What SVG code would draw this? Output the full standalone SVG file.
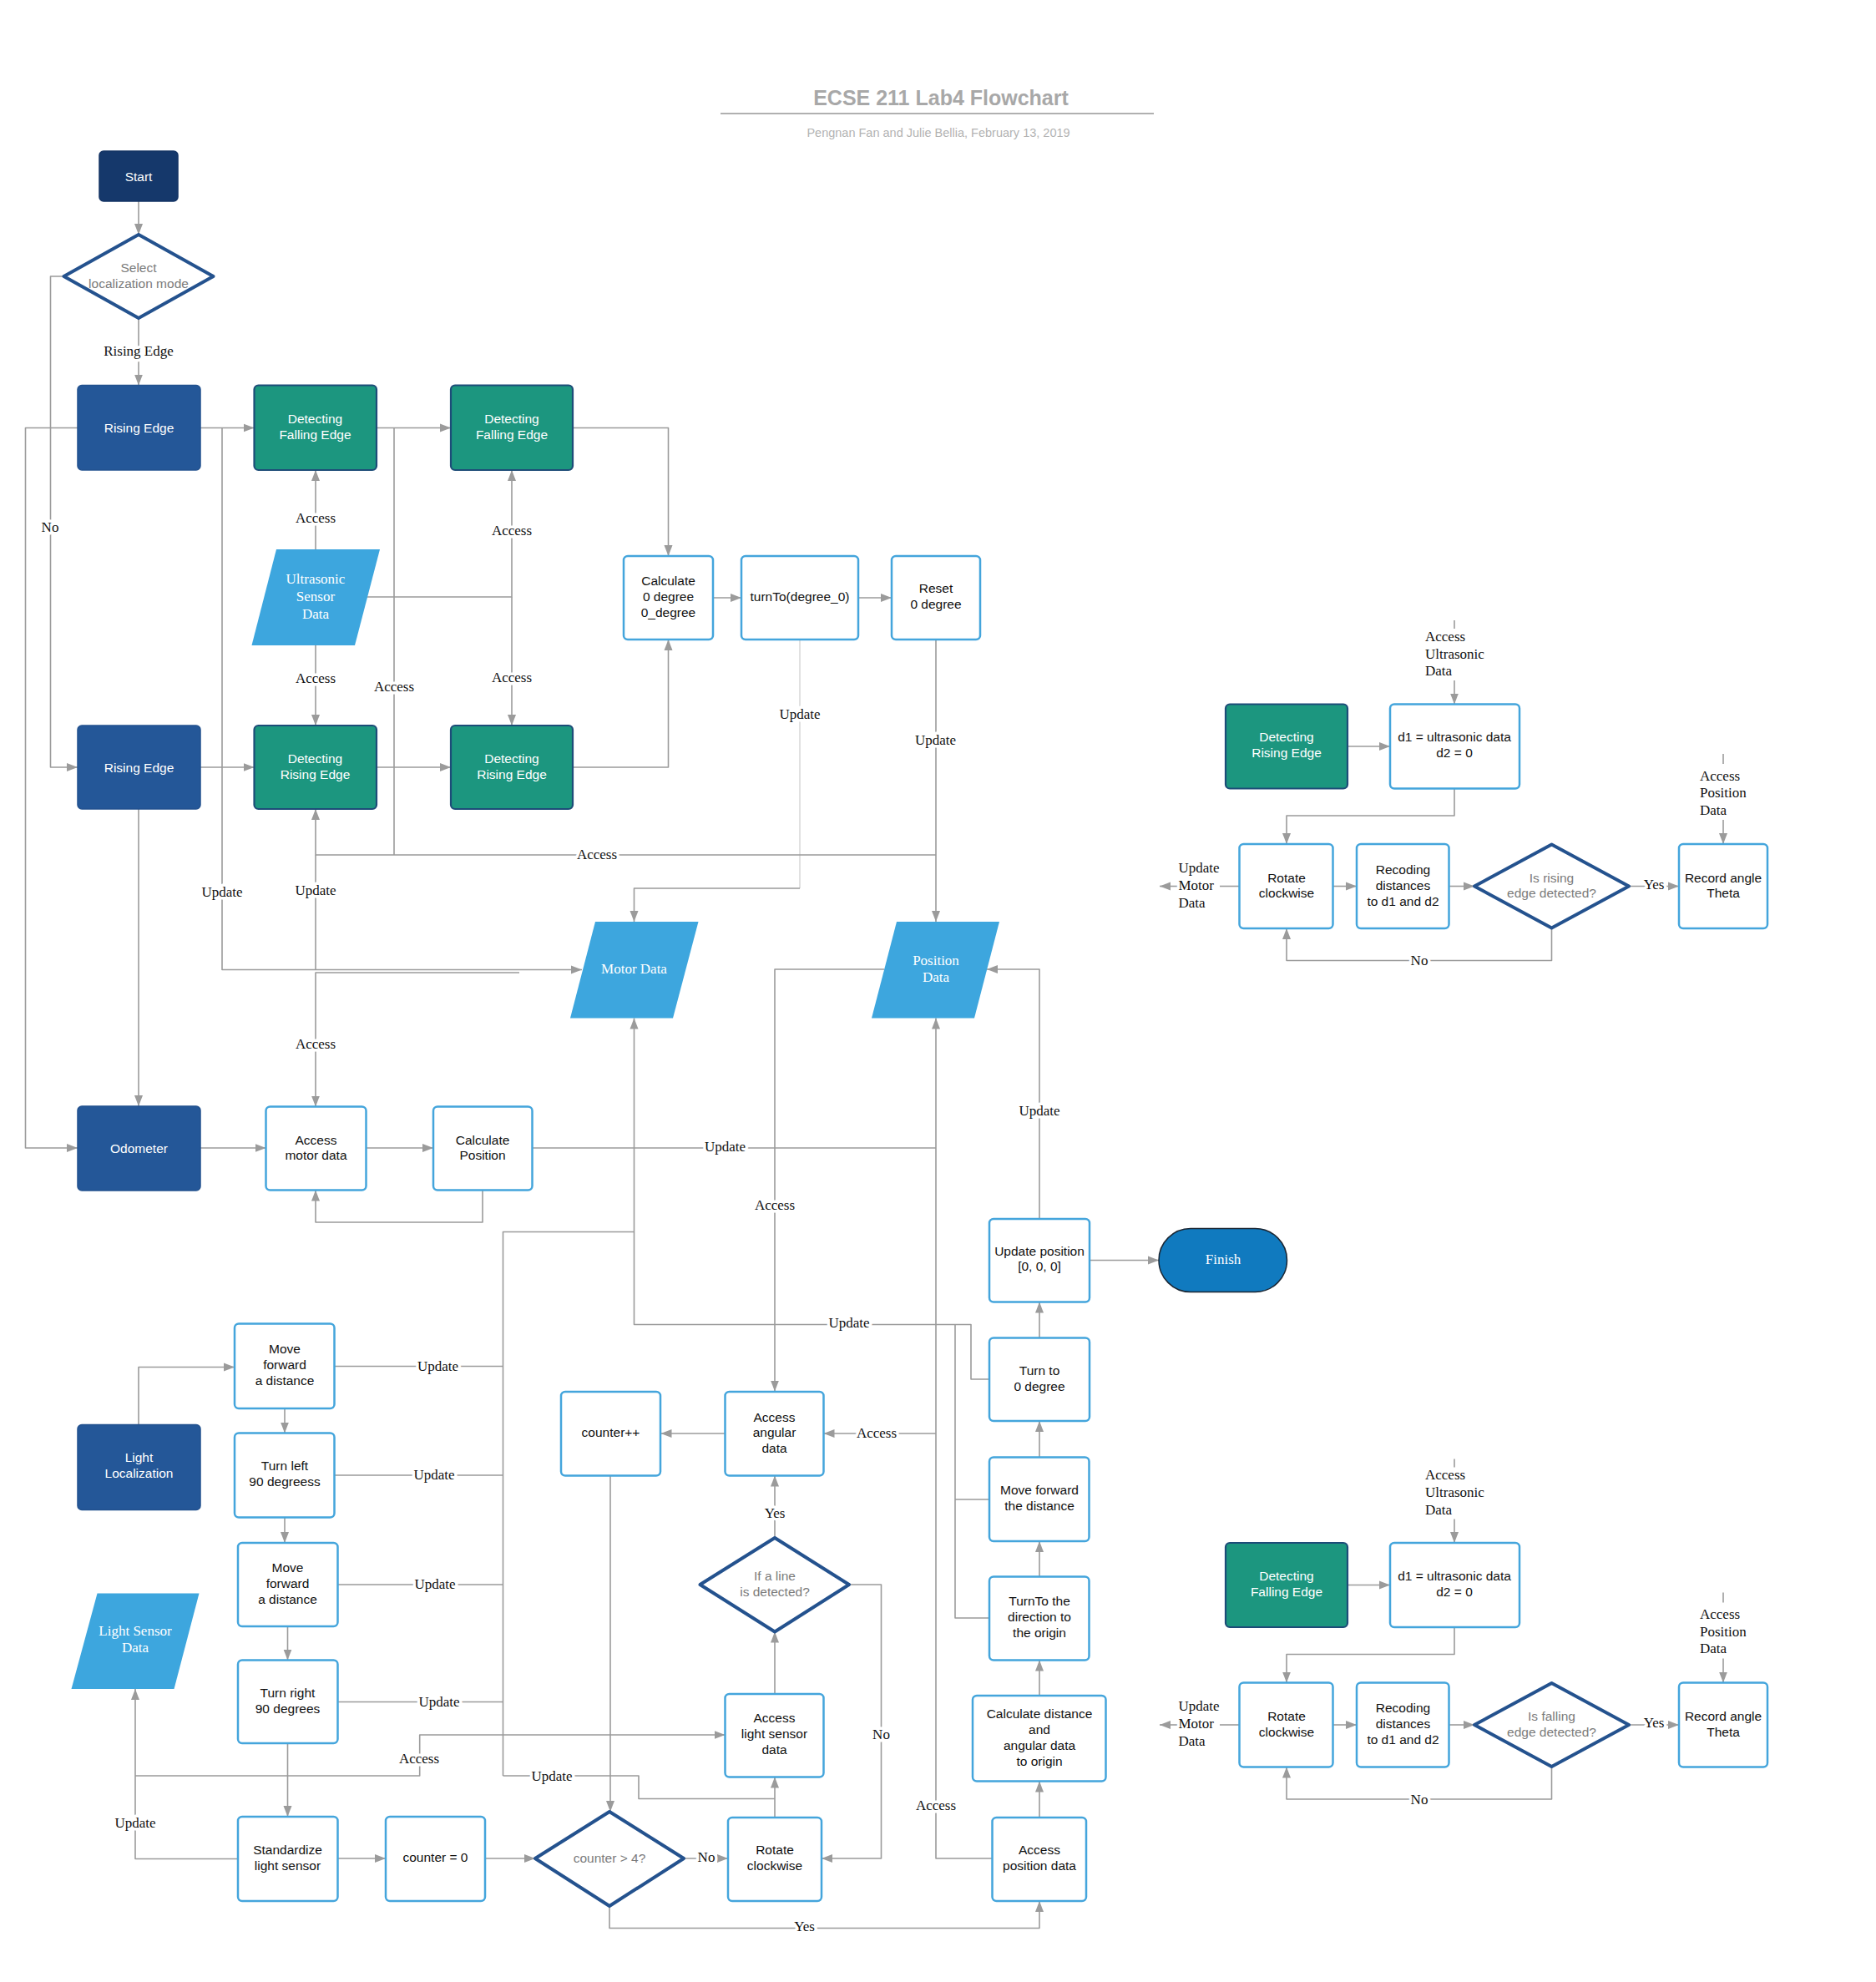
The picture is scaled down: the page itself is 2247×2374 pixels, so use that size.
<svg xmlns="http://www.w3.org/2000/svg" width="2247" height="2374" viewBox="0 0 2247 2374">
<defs>
<marker id="ah" markerWidth="14" markerHeight="12" refX="13" refY="6" orient="auto" markerUnits="userSpaceOnUse">
<path d="M0,1 L13,6 L0,11 Z" fill="#9b9b9b"/>
</marker>
<style>
.conn{fill:none;stroke:#9b9b9b;stroke-width:1.6;stroke-linejoin:round}
.light{stroke:#dadada}
.arr{marker-end:url(#ah)}
.lbl{font-family:"Liberation Serif","Times New Roman",serif;font-size:17px;fill:#111;text-anchor:middle;dominant-baseline:central;stroke:#fff;stroke-width:7;paint-order:stroke;stroke-linejoin:round}
.lft{text-anchor:start}
.box{fill:#fff;stroke:#44a5dc;stroke-width:2.5}
.navy{fill:#15386b;stroke:#133364;stroke-width:1.5}
.blue{fill:#245798;stroke:#22518e;stroke-width:1.5}
.teal{fill:#1c967f;stroke:#1d4c78;stroke-width:2.2}
.para{fill:#3da6de}
.dia{fill:#fff;stroke:#24528e;stroke-width:4;stroke-linejoin:round}
.fin{fill:#107abf;stroke:#1a2633;stroke-width:1.5}
.nt{font-family:"Liberation Sans",Arial,sans-serif;font-size:15.5px;fill:#111;text-anchor:middle;dominant-baseline:central}
.wt{fill:#fff}
.gt{fill:#7b7b7b}
.st{font-family:"Liberation Serif","Times New Roman",serif;font-size:17px;fill:#fff;text-anchor:middle;dominant-baseline:central}
</style>
</defs>
<rect width="2247" height="2374" fill="#fff"/>

<!-- heading -->
<g id="heading">
<text x="1127" y="117" font-family="Liberation Sans, Arial, sans-serif" font-size="25" font-weight="bold" fill="#a8a8a8" text-anchor="middle" dominant-baseline="central">ECSE 211 Lab4 Flowchart</text>
<path d="M863,136 H1382" stroke="#b0b0b0" stroke-width="2"/>
<text x="1124" y="159" font-family="Liberation Sans, Arial, sans-serif" font-size="14.5" fill="#b3b3b3" text-anchor="middle" dominant-baseline="central">Pengnan Fan and Julie Bellia, February 13, 2019</text>
</g>

<!-- connectors -->
<g id="connectors">
<path class="conn arr" d="M166,241 V281"/>
<path class="conn arr" d="M166,381 V461.5"/>
<path class="conn arr" d="M76.5,331 H60.5 V919 H93"/>
<path class="conn arr" d="M240,512.5 H304.5"/>
<path class="conn arr" d="M93,512.5 H30.5 V1375 H93"/>
<path class="conn arr" d="M451,512.5 H540"/>
<path class="conn arr" d="M686,512.5 H800.5 V666"/>
<path class="conn arr" d="M378,658 V563"/>
<path class="conn arr" d="M440,715 H613 V563"/>
<path class="conn arr" d="M613,715 V869"/>
<path class="conn arr" d="M378,773 V869"/>
<path class="conn arr" d="M240,919 H304.5"/>
<path class="conn arr" d="M451,919 H540"/>
<path class="conn arr" d="M686,919 H800.5 V766"/>
<path class="conn arr" d="M854,716 H888"/>
<path class="conn arr" d="M1028,716 H1068"/>
<path class="conn light" d="M958,766 V1064"/>
<path class="conn arr" d="M958,1064 H759.5 V1104"/>
<path class="conn arr" d="M1121,766 V1104"/>
<path class="conn arr" d="M1121,1024 H378 V969"/>
<path class="conn" d="M472,512.5 V1024"/>
<path class="conn arr" d="M266,512.5 V1161.5 H697"/>
<path class="conn" d="M378,1024 V1161.5"/>
<path class="conn arr" d="M622,1165 H378 V1325.5"/>
<path class="conn arr" d="M240,1375 H318.5"/>
<path class="conn arr" d="M438.5,1375 H519"/>
<path class="conn" d="M637.5,1375 H1121"/>
<path class="conn arr" d="M578,1425.5 V1464 H378 V1425.5"/>
<path class="conn arr" d="M166,969 V1325"/>
<path class="conn arr" d="M1059,1161 H928 V1666.5"/>
<path class="conn arr" d="M1245,1460 V1161 H1182"/>
<path class="conn arr" d="M1188.5,2226 H1121 V1219.5"/>
<path class="conn arr" d="M1121,1717 H986.5"/>
<path class="conn arr" d="M868.5,1717 H791.5"/>
<path class="conn arr" d="M731,1767.5 V2170"/>
<path class="conn arr" d="M1185,1652 H1163 V1586.5 H759.5 V1219.5"/>
<path class="conn" d="M1185,1938 H1144 V1586.5 M1185,1796 H1144"/>
<path class="conn" d="M602.5,2127 V1475.5 H759.5"/>
<path class="conn" d="M400,1636.5 H602.5 M400,1767 H602.5 M404.5,1898 H602.5 M404.5,2038.5 H602.5"/>
<path class="conn" d="M602.5,2127 H765 V2154.5 H928"/>
<path class="conn arr" d="M166,1706.5 V1637.5 H281"/>
<path class="conn arr" d="M341,1687 V1716.5"/>
<path class="conn arr" d="M341,1817.5 V1848"/>
<path class="conn arr" d="M344.5,1948 V1988.5"/>
<path class="conn arr" d="M344.5,2088 V2176"/>
<path class="conn arr" d="M285,2226.5 H162 V2023"/>
<path class="conn arr" d="M162,2127 H502.7 V2078 H868.5"/>
<path class="conn arr" d="M404.5,2226 H462"/>
<path class="conn arr" d="M581,2226 H641"/>
<path class="conn arr" d="M819,2226 H872"/>
<path class="conn arr" d="M928,2177 V2128.5"/>
<path class="conn arr" d="M928,2029 V1954.5"/>
<path class="conn arr" d="M928,1842 V1767.5"/>
<path class="conn arr" d="M1017,1898 H1055.5 V2226 H984"/>
<path class="conn arr" d="M730,2283 V2309.5 H1245 V2277"/>
<path class="conn arr" d="M1245,2177 V2133.5"/>
<path class="conn arr" d="M1245,2031 V1988.5"/>
<path class="conn arr" d="M1245,1888.5 V1846"/>
<path class="conn arr" d="M1245,1745.5 V1702"/>
<path class="conn arr" d="M1245,1602.5 V1559.5"/>
<path class="conn arr" d="M1305,1509.5 H1388"/>
<!-- rising edge detail -->
<path class="conn" d="M1742,743 V753"/>
<path class="conn arr" d="M1742,815 V843.5"/>
<path class="conn arr" d="M1614,894 H1665"/>
<path class="conn arr" d="M1742,944.5 V977 H1541 V1011"/>
<path class="conn arr" d="M1596.5,1061.5 H1625"/>
<path class="conn arr" d="M1735.5,1061.5 H1766"/>
<path class="conn arr" d="M1951,1061.5 H2011"/>
<path class="conn arr" d="M1858.5,1111.5 V1150.5 H1541 V1112"/>
<path class="conn" d="M2064,903 V915"/>
<path class="conn arr" d="M2064,982 V1011"/>
<path class="conn" d="M1484.5,1061.5 H1461"/>
<path class="conn arr" d="M1411,1061.5 H1389"/>
<!-- falling edge detail -->
<path class="conn" d="M1742,1747.5 V1757.5"/>
<path class="conn arr" d="M1742,1819.5 V1848"/>
<path class="conn arr" d="M1614,1898.5 H1665"/>
<path class="conn arr" d="M1742,1949 V1981.5 H1541 V2015.5"/>
<path class="conn arr" d="M1596.5,2066 H1625"/>
<path class="conn arr" d="M1735.5,2066 H1766"/>
<path class="conn arr" d="M1951,2066 H2011"/>
<path class="conn arr" d="M1858.5,2116 V2155 H1541 V2116.5"/>
<path class="conn" d="M2064,1907.5 V1919.5"/>
<path class="conn arr" d="M2064,1986.5 V2015.5"/>
<path class="conn" d="M1484.5,2066 H1461"/>
<path class="conn arr" d="M1411,2066 H1389"/>

<!-- connector labels -->
<text class="lbl" x="166" y="420">Rising Edge</text>
<text class="lbl" x="60" y="631">No</text>
<text class="lbl" x="378" y="620">Access</text>
<text class="lbl" x="613" y="635">Access</text>
<text class="lbl" x="378" y="812">Access</text>
<text class="lbl" x="472" y="822">Access</text>
<text class="lbl" x="613" y="811">Access</text>
<text class="lbl" x="958" y="855">Update</text>
<text class="lbl" x="1120.5" y="886">Update</text>
<text class="lbl" x="715" y="1023">Access</text>
<text class="lbl" x="266" y="1068">Update</text>
<text class="lbl" x="378" y="1066">Update</text>
<text class="lbl" x="378" y="1250">Access</text>
<text class="lbl" x="868.5" y="1373">Update</text>
<text class="lbl" x="928" y="1443">Access</text>
<text class="lbl" x="1245" y="1330">Update</text>
<text class="lbl" x="1017" y="1584">Update</text>
<text class="lbl" x="524.5" y="1636">Update</text>
<text class="lbl" x="520" y="1766">Update</text>
<text class="lbl" x="521" y="1897">Update</text>
<text class="lbl" x="526" y="2038">Update</text>
<text class="lbl" x="1050" y="1716">Access</text>
<text class="lbl" x="928" y="1812">Yes</text>
<text class="lbl" x="1055.5" y="2077">No</text>
<text class="lbl" x="502" y="2106">Access</text>
<text class="lbl" x="661" y="2127">Update</text>
<text class="lbl" x="162" y="2183">Update</text>
<text class="lbl" x="846" y="2224">No</text>
<text class="lbl" x="1121" y="2162">Access</text>
<text class="lbl" x="963.5" y="2307">Yes</text>

<text class="lbl lft" x="1707" y="762">Access</text>
<text class="lbl lft" x="1707" y="783">Ultrasonic</text>
<text class="lbl lft" x="1707" y="803.5">Data</text>
<text class="lbl lft" x="2036" y="929">Access</text>
<text class="lbl lft" x="2036" y="949.5">Position</text>
<text class="lbl lft" x="2036" y="970">Data</text>
<text class="lbl lft" x="1411.5" y="1039">Update</text>
<text class="lbl lft" x="1411.5" y="1060">Motor</text>
<text class="lbl lft" x="1411.5" y="1081">Data</text>
<text class="lbl" x="1981" y="1059">Yes</text>
<text class="lbl" x="1700" y="1150.5">No</text>

<text class="lbl lft" x="1707" y="1766.5">Access</text>
<text class="lbl lft" x="1707" y="1787.5">Ultrasonic</text>
<text class="lbl lft" x="1707" y="1808">Data</text>
<text class="lbl lft" x="2036" y="1933.5">Access</text>
<text class="lbl lft" x="2036" y="1954">Position</text>
<text class="lbl lft" x="2036" y="1974.5">Data</text>
<text class="lbl lft" x="1411.5" y="2043.5">Update</text>
<text class="lbl lft" x="1411.5" y="2064.5">Motor</text>
<text class="lbl lft" x="1411.5" y="2085.5">Data</text>
<text class="lbl" x="1981" y="2063.5">Yes</text>
<text class="lbl" x="1700" y="2155">No</text>
</g>

<!-- ultrasonic localization -->
<g id="start"><rect class="navy" x="119" y="181" width="94" height="60" rx="5"/><text class="nt wt" x="166" y="211">Start</text></g>
<g id="select-mode"><path class="dia" d="M76.5,331 L166,281 L255.5,331 L166,381 Z"/><text class="nt gt" x="166" y="320.5">Select</text><text class="nt gt" x="166" y="339">localization mode</text></g>
<g id="rising-edge-1"><rect class="blue" x="93" y="461.5" width="147" height="101.5" rx="5"/><text class="nt wt" x="166.5" y="512">Rising Edge</text></g>
<g id="detect-falling-1"><rect class="teal" x="304.5" y="461.5" width="146.5" height="101.5" rx="5"/><text class="nt wt" x="377.5" y="501">Detecting</text><text class="nt wt" x="377.5" y="520">Falling Edge</text></g>
<g id="detect-falling-2"><rect class="teal" x="540" y="461.5" width="146" height="101.5" rx="5"/><text class="nt wt" x="613" y="501">Detecting</text><text class="nt wt" x="613" y="520">Falling Edge</text></g>
<g id="ultrasonic-data"><path class="para" d="M331,658 L455,658 L425,773 L301.5,773 Z"/><text class="st" x="378" y="693">Ultrasonic</text><text class="st" x="378" y="714">Sensor</text><text class="st" x="378" y="735">Data</text></g>
<g id="rising-edge-2"><rect class="blue" x="93" y="869" width="147" height="100" rx="5"/><text class="nt wt" x="166.5" y="919">Rising Edge</text></g>
<g id="detect-rising-1"><rect class="teal" x="304.5" y="869" width="146.5" height="100" rx="5"/><text class="nt wt" x="377.5" y="908">Detecting</text><text class="nt wt" x="377.5" y="927">Rising Edge</text></g>
<g id="detect-rising-2"><rect class="teal" x="540" y="869" width="146" height="100" rx="5"/><text class="nt wt" x="613" y="908">Detecting</text><text class="nt wt" x="613" y="927">Rising Edge</text></g>
<g id="calc-zero"><rect class="box" x="747" y="666" width="107" height="100" rx="5"/><text class="nt" x="800.5" y="695">Calculate</text><text class="nt" x="800.5" y="714">0 degree</text><text class="nt" x="800.5" y="733">0_degree</text></g>
<g id="turn-to"><rect class="box" x="888" y="666" width="140" height="100" rx="5"/><text class="nt" x="958" y="714">turnTo(degree_0)</text></g>
<g id="reset-zero"><rect class="box" x="1068" y="666" width="106" height="100" rx="5"/><text class="nt" x="1121" y="704.5">Reset</text><text class="nt" x="1121" y="723.5">0 degree</text></g>
<g id="motor-data"><path class="para" d="M713,1104 L836.5,1104 L806,1219.5 L683,1219.5 Z"/><text class="st" x="759.5" y="1160">Motor Data</text></g>
<g id="position-data"><path class="para" d="M1074,1104 L1197,1104 L1167,1219.5 L1044,1219.5 Z"/><text class="st" x="1121" y="1150">Position</text><text class="st" x="1121" y="1170.5">Data</text></g>
<g id="odometer"><rect class="blue" x="93" y="1325" width="147" height="101" rx="5"/><text class="nt wt" x="166.5" y="1375">Odometer</text></g>
<g id="access-motor"><rect class="box" x="318.5" y="1325.5" width="120" height="100" rx="5"/><text class="nt" x="378.5" y="1365">Access</text><text class="nt" x="378.5" y="1383.5">motor data</text></g>
<g id="calc-position"><rect class="box" x="519" y="1325.5" width="118.5" height="100" rx="5"/><text class="nt" x="578" y="1365">Calculate</text><text class="nt" x="578" y="1383.5">Position</text></g>

<!-- light localization -->
<g id="update-position"><rect class="box" x="1185" y="1460" width="120" height="99.5" rx="5"/><text class="nt" x="1245" y="1498">Update position</text><text class="nt" x="1245" y="1516.5">[0, 0, 0]</text></g>
<g id="finish"><rect class="fin" x="1388" y="1471.5" width="153.5" height="76" rx="38"/><text class="st" x="1465" y="1508">Finish</text></g>
<g id="move-forward-1"><rect class="box" x="281" y="1585.5" width="119.5" height="101.5" rx="5"/><text class="nt" x="341" y="1615">Move</text><text class="nt" x="341" y="1634">forward</text><text class="nt" x="341" y="1653">a distance</text></g>
<g id="light-localization"><rect class="blue" x="93" y="1706.5" width="147" height="102" rx="5"/><text class="nt wt" x="166.5" y="1745">Light</text><text class="nt wt" x="166.5" y="1764.5">Localization</text></g>
<g id="turn-left"><rect class="box" x="281" y="1716.5" width="119.5" height="101" rx="5"/><text class="nt" x="341" y="1755">Turn left</text><text class="nt" x="341" y="1774">90 degreess</text></g>
<g id="counter-inc"><rect class="box" x="672" y="1667" width="119" height="100.5" rx="5"/><text class="nt" x="731.5" y="1715.5">counter++</text></g>
<g id="access-angular"><rect class="box" x="868.5" y="1667" width="118" height="100.5" rx="5"/><text class="nt" x="927.5" y="1697">Access</text><text class="nt" x="927.5" y="1715.5">angular</text><text class="nt" x="927.5" y="1734">data</text></g>
<g id="turn-zero"><rect class="box" x="1185" y="1602.5" width="120" height="99.5" rx="5"/><text class="nt" x="1245" y="1641.5">Turn to</text><text class="nt" x="1245" y="1660.5">0 degree</text></g>
<g id="move-forward-dist"><rect class="box" x="1185" y="1745.5" width="119.5" height="100.5" rx="5"/><text class="nt" x="1245" y="1784">Move forward</text><text class="nt" x="1245" y="1803">the distance</text></g>
<g id="line-detected"><path class="dia" d="M838.5,1898 L928,1842 L1017,1898 L928,1954.5 Z"/><text class="nt gt" x="928" y="1887">If a line</text><text class="nt gt" x="928" y="1906">is detected?</text></g>
<g id="move-forward-2"><rect class="box" x="285" y="1848" width="119.5" height="100" rx="5"/><text class="nt" x="344.5" y="1877">Move</text><text class="nt" x="344.5" y="1896">forward</text><text class="nt" x="344.5" y="1915">a distance</text></g>
<g id="light-sensor-data"><path class="para" d="M116.5,1908.5 L238.5,1908.5 L208.5,2023 L85.5,2023 Z"/><text class="st" x="162" y="1953">Light Sensor</text><text class="st" x="162" y="1973.5">Data</text></g>
<g id="turn-origin"><rect class="box" x="1185" y="1888.5" width="119.5" height="100" rx="5"/><text class="nt" x="1245" y="1917.5">TurnTo the</text><text class="nt" x="1245" y="1936.5">direction to</text><text class="nt" x="1245" y="1955.5">the origin</text></g>
<g id="turn-right"><rect class="box" x="285" y="1988.5" width="119.5" height="99.5" rx="5"/><text class="nt" x="344.5" y="2027">Turn right</text><text class="nt" x="344.5" y="2046">90 degrees</text></g>
<g id="access-light"><rect class="box" x="868.5" y="2029" width="118" height="99.5" rx="5"/><text class="nt" x="927.5" y="2057">Access</text><text class="nt" x="927.5" y="2076">light sensor</text><text class="nt" x="927.5" y="2095">data</text></g>
<g id="calc-distance"><rect class="box" x="1165" y="2031" width="159.5" height="102.5" rx="5"/><text class="nt" x="1245" y="2052">Calculate distance</text><text class="nt" x="1245" y="2071">and</text><text class="nt" x="1245" y="2090">angular data</text><text class="nt" x="1245" y="2109">to origin</text></g>
<g id="standardize"><rect class="box" x="285" y="2176" width="119.5" height="101" rx="5"/><text class="nt" x="344.5" y="2215">Standardize</text><text class="nt" x="344.5" y="2234">light sensor</text></g>
<g id="counter-zero"><rect class="box" x="462" y="2176" width="119" height="101" rx="5"/><text class="nt" x="521.5" y="2224.5">counter = 0</text></g>
<g id="counter-check"><path class="dia" d="M641,2226 L730,2170 L819,2226 L730,2283 Z"/><text class="nt gt" x="730" y="2225">counter &gt; 4?</text></g>
<g id="rotate-cw"><rect class="box" x="872" y="2177" width="112" height="100" rx="5"/><text class="nt" x="928" y="2215">Rotate</text><text class="nt" x="928" y="2234">clockwise</text></g>
<g id="access-position"><rect class="box" x="1188.5" y="2177" width="112.5" height="100" rx="5"/><text class="nt" x="1245" y="2215">Access</text><text class="nt" x="1245" y="2234">position data</text></g>

<!-- rising edge procedure -->
<g id="re-detect"><rect class="teal" x="1468" y="843.5" width="146" height="101" rx="5"/><text class="nt wt" x="1541" y="882.5">Detecting</text><text class="nt wt" x="1541" y="901.5">Rising Edge</text></g>
<g id="re-d1"><rect class="box" x="1665" y="843.5" width="155" height="101" rx="5"/><text class="nt" x="1742" y="882.5">d1 = ultrasonic data</text><text class="nt" x="1742" y="901.5">d2 = 0</text></g>
<g id="re-rotate"><rect class="box" x="1484.5" y="1011" width="112" height="101" rx="5"/><text class="nt" x="1541" y="1051">Rotate</text><text class="nt" x="1541" y="1069.5">clockwise</text></g>
<g id="re-record"><rect class="box" x="1625" y="1011" width="110.5" height="101" rx="5"/><text class="nt" x="1680.5" y="1041">Recoding</text><text class="nt" x="1680.5" y="1060">distances</text><text class="nt" x="1680.5" y="1079">to d1 and d2</text></g>
<g id="re-check"><path class="dia" d="M1766,1061.5 L1858.5,1011.5 L1951,1061.5 L1858.5,1111.5 Z"/><text class="nt gt" x="1858.5" y="1051">Is rising</text><text class="nt gt" x="1858.5" y="1069.5">edge detected?</text></g>
<g id="re-theta"><rect class="box" x="2011" y="1011" width="106" height="101" rx="5"/><text class="nt" x="2064" y="1051">Record angle</text><text class="nt" x="2064" y="1069.5">Theta</text></g>

<!-- falling edge procedure -->
<g id="fe-detect"><rect class="teal" x="1468" y="1848" width="146" height="101" rx="5"/><text class="nt wt" x="1541" y="1887">Detecting</text><text class="nt wt" x="1541" y="1906">Falling Edge</text></g>
<g id="fe-d1"><rect class="box" x="1665" y="1848" width="155" height="101" rx="5"/><text class="nt" x="1742" y="1887">d1 = ultrasonic data</text><text class="nt" x="1742" y="1906">d2 = 0</text></g>
<g id="fe-rotate"><rect class="box" x="1484.5" y="2015.5" width="112" height="101" rx="5"/><text class="nt" x="1541" y="2055.5">Rotate</text><text class="nt" x="1541" y="2074">clockwise</text></g>
<g id="fe-record"><rect class="box" x="1625" y="2015.5" width="110.5" height="101" rx="5"/><text class="nt" x="1680.5" y="2045.5">Recoding</text><text class="nt" x="1680.5" y="2064.5">distances</text><text class="nt" x="1680.5" y="2083.5">to d1 and d2</text></g>
<g id="fe-check"><path class="dia" d="M1766,2066 L1858.5,2016 L1951,2066 L1858.5,2116 Z"/><text class="nt gt" x="1858.5" y="2055.5">Is falling</text><text class="nt gt" x="1858.5" y="2074">edge detected?</text></g>
<g id="fe-theta"><rect class="box" x="2011" y="2015.5" width="106" height="101" rx="5"/><text class="nt" x="2064" y="2055.5">Record angle</text><text class="nt" x="2064" y="2074">Theta</text></g>
</svg>
